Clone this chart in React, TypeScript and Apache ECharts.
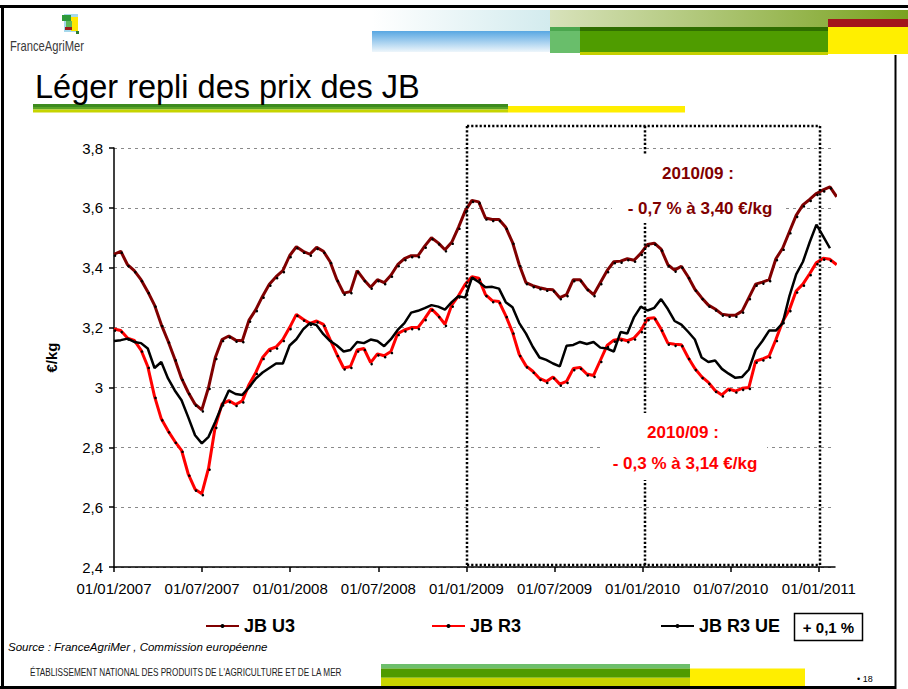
import React, { useEffect, useRef } from "react";
import * as echarts from "echarts";

// ---- data (bi-weekly readings from 01/01/2007) ----
const xTickLabels = [
  "01/01/2007", "01/07/2007", "01/01/2008", "01/07/2008", "01/01/2009",
  "01/07/2009", "01/01/2010", "01/07/2010", "01/01/2011",
];
const yTicks = [2.4, 2.6, 2.8, 3.0, 3.2, 3.4, 3.6, 3.8];
const STEP_DAYS = 14;

const jbU3 = [
  3.445, 3.455, 3.41, 3.39, 3.36, 3.32, 3.275, 3.21, 3.155, 3.095,
  3.03, 2.983, 2.944, 2.925, 3.0, 3.1, 3.16, 3.172, 3.158, 3.156,
  3.225, 3.26, 3.305, 3.345, 3.37, 3.39, 3.44, 3.47, 3.455, 3.445,
  3.468, 3.455, 3.42, 3.36, 3.315, 3.32, 3.39, 3.36, 3.335, 3.36,
  3.35, 3.375, 3.41, 3.43, 3.44, 3.44, 3.472, 3.5, 3.483, 3.46,
  3.485, 3.535, 3.59, 3.625, 3.62, 3.566, 3.561, 3.561, 3.535, 3.485,
  3.41, 3.35, 3.34, 3.333, 3.328, 3.326, 3.3, 3.31, 3.36, 3.36,
  3.33, 3.31, 3.35, 3.39, 3.42, 3.422, 3.43, 3.425, 3.448, 3.478,
  3.482, 3.462, 3.41, 3.392, 3.405, 3.37, 3.328, 3.3, 3.275, 3.262,
  3.245, 3.241, 3.241, 3.255, 3.3, 3.345, 3.352, 3.36, 3.43, 3.465,
  3.52, 3.575, 3.61, 3.628, 3.648, 3.66, 3.67, 3.637,
];
const jbR3 = [
  3.195, 3.19, 3.165, 3.157, 3.125, 3.07, 2.97, 2.895, 2.855, 2.82,
  2.79, 2.71, 2.66, 2.645, 2.73, 2.87, 2.945, 2.956, 2.943, 2.955,
  3.01, 3.05, 3.1, 3.127, 3.135, 3.16, 3.2, 3.244, 3.228, 3.214,
  3.222, 3.211, 3.16, 3.11, 3.065, 3.07, 3.125, 3.13, 3.083, 3.112,
  3.106, 3.12, 3.18, 3.192, 3.2, 3.2, 3.23, 3.263, 3.24, 3.211,
  3.275, 3.306, 3.345, 3.37, 3.365, 3.31, 3.29, 3.287, 3.24, 3.185,
  3.11, 3.072, 3.054, 3.03, 3.02, 3.035, 3.011, 3.02, 3.063, 3.067,
  3.045, 3.04, 3.09, 3.14, 3.158, 3.162, 3.156, 3.165, 3.19, 3.23,
  3.233, 3.195, 3.148, 3.144, 3.143, 3.1, 3.063, 3.036, 3.017, 2.99,
  2.975, 2.995, 2.988, 2.997, 3.0, 3.088, 3.095, 3.105, 3.16, 3.22,
  3.26, 3.322, 3.345, 3.38, 3.417, 3.432, 3.428, 3.41,
];
const jbR3UE = [
  3.155, 3.158, 3.163, 3.152, 3.148, 3.13, 3.065, 3.085, 3.03, 2.99,
  2.957, 2.9, 2.84, 2.813, 2.835, 2.885, 2.94, 2.99, 2.978, 2.975,
  3.0, 3.03, 3.05, 3.065, 3.08, 3.08, 3.14, 3.161, 3.194, 3.215,
  3.208, 3.178, 3.155, 3.14, 3.12, 3.125, 3.152, 3.148, 3.16, 3.155,
  3.138, 3.161, 3.192, 3.215, 3.25, 3.256, 3.265, 3.275, 3.27, 3.26,
  3.285, 3.305, 3.3, 3.367, 3.352, 3.335, 3.336, 3.33, 3.285, 3.268,
  3.215, 3.18, 3.136, 3.1, 3.092, 3.08, 3.07, 3.139, 3.142, 3.152,
  3.145, 3.152, 3.133, 3.13, 3.12, 3.185, 3.18, 3.235, 3.27, 3.257,
  3.266, 3.295, 3.262, 3.222, 3.21, 3.186, 3.16, 3.1, 3.085, 3.09,
  3.062, 3.046, 3.032, 3.035, 3.06, 3.125, 3.155, 3.19, 3.19, 3.215,
  3.305, 3.378, 3.42, 3.485, 3.544, 3.505, 3.465,
];

const seriesNames = ["JB U3", "JB R3", "JB R3 UE"];

const FONT = "'Liberation Sans', Arial, sans-serif";

const toPoints = (arr: number[]) =>
  arr.map((v, i) => [(i * STEP_DAYS) / 30.4375, v]);

const rect = (x: number, y: number, w: number, h: number, fill: any, z = 1) => ({
  type: "rect",
  z,
  shape: { x, y, width: w, height: h },
  style: { fill },
  silent: true,
});
const line = (x1: number, y1: number, x2: number, y2: number, style: any, z = 1) => ({
  type: "line",
  z,
  shape: { x1, y1, x2, y2 },
  style,
  silent: true,
});
const text = (
  x: number, y: number, t: string, font: string, fill: string,
  align = "left", z = 20, scaleX = 1,
) => ({
  type: "text",
  z,
  x,
  y,
  scaleX,
  style: {
    text: t,
    font,
    fill,
    align,
    verticalAlign: "middle",
    textAlign: align,
    textVerticalAlign: "middle",
  },
  silent: true,
});

export default function App() {
  const ref = useRef<HTMLDivElement>(null);

  useEffect(() => {
    if (!ref.current) return;
    const chart = echarts.init(ref.current, undefined, { renderer: "svg" });
    const LG = echarts.graphic.LinearGradient;
    const dotted = { stroke: "#000", lineWidth: 2.5, lineDash: [2.2, 2] };

    const graphic: any[] = [
      // frame
      line(0, 6.5, 908, 6.5, { stroke: "#000", lineWidth: 3 }),
      line(2.5, 5, 2.5, 689, { stroke: "#000", lineWidth: 3 }),
      line(0, 687.5, 896, 687.5, { stroke: "#000", lineWidth: 3 }),
      line(895.5, 55, 895.5, 689, { stroke: "#000", lineWidth: 2 }),
      // header decoration
      rect(372, 10, 178, 21, new LG(0, 0, 1, 0, [{ offset: 0, color: "#ffffff" }, { offset: 1, color: "#d3ebee" }])),
      rect(372, 31, 178, 21, new LG(0, 0, 0, 1, [{ offset: 0, color: "#58a7e2" }, { offset: 1, color: "#eef6fb" }])),
      rect(550, 10, 358, 17, new LG(0, 0, 1, 0, [{ offset: 0, color: "#d8e2bb" }, { offset: 1, color: "#79a21f" }])),
      rect(550, 27, 30, 26, "#69be6b"),
      rect(550, 27, 30, 4, "#4ba64e"),
      rect(580, 27, 248, 26, "#4f9c00"),
      rect(580, 27, 248, 4, "#2f6e00"),
      rect(580, 52, 248, 3, "#c5d000"),
      rect(828, 19, 80, 8, "#a2161b"),
      rect(828, 27, 80, 27, "#ffef00"),
      // logo
      rect(64, 14, 14, 18, "#a6d8ec"),
      rect(62, 15, 9, 6, "#2e9a3a"),
      rect(71, 17, 7, 14, "#ffe800"),
      rect(66, 21, 6, 6, "#5cb85c"),
      rect(65, 27, 7, 3, "#9b1b1b"),
      rect(76, 31, 3, 3, "#2e7d32"),
      text(10, 47, "FranceAgriMer", `14px ${FONT}`, "#3a3a3a", "left", 20, 0.8),
      // title
      text(35, 87, "Léger repli des prix des JB", `32.5px ${FONT}`, "#000"),
      rect(33, 104, 475, 3, "#3d8b1f"),
      rect(33, 107, 475, 2.5, "#5aa326"),
      rect(33, 109.5, 475, 3, "#c6d400"),
      rect(508, 106, 177, 6.5, "#ffee00"),
      // dotted annotation box
      line(467, 126, 820, 126, dotted, 10),
      line(467, 126, 467, 566, dotted, 10),
      line(820, 126, 820, 566, dotted, 10),
      line(467, 565, 820, 565, dotted, 10),
      line(645, 126, 645, 566, dotted, 10),
      rect(612, 155, 170, 68, "#ffffff", 11),
      rect(600, 413, 167, 67, "#ffffff", 11),
      text(698, 173, "2010/09 :", `bold 17px ${FONT}`, "#7f0000", "center"),
      text(700, 208, "- 0,7 % à 3,40 €/kg", `bold 17px ${FONT}`, "#7f0000", "center"),
      text(683, 432, "2010/09 :", `bold 17px ${FONT}`, "#ff0000", "center"),
      text(685, 463, "- 0,3 % à 3,14 €/kg", `bold 17px ${FONT}`, "#ff0000", "center"),
      // legend side box
      {
        type: "rect",
        z: 20,
        shape: { x: 794.5, y: 613.5, width: 68, height: 27 },
        style: { fill: "#ffffff", stroke: "#000", lineWidth: 1.5 },
        silent: true,
      },
      text(828.5, 627, "+ 0,1 %", `bold 15px ${FONT}`, "#000", "center", 21),
      // source & footer
      text(8, 647, "Source : FranceAgriMer , Commission européenne", `italic 11.5px ${FONT}`, "#000"),
      text(30, 673, "ÉTABLISSEMENT NATIONAL DES PRODUITS DE L'AGRICULTURE ET DE LA MER", `10px ${FONT}`, "#222", "left", 20, 0.82),
      rect(381, 664, 309, 4.5, "#6dbf6c"),
      rect(381, 668.5, 309, 9.2, "#4f9b00"),
      rect(381, 677.7, 309, 8.3, "#c8d400"),
      rect(690, 668.5, 115, 17.5, "#ffee00"),
      text(857, 679, "• 18", `9px ${FONT}`, "#000"),
    ];

    const legendBase = {
      top: 617,
      padding: 0,
      itemWidth: 33,
      itemHeight: 5,
      itemGap: 0,
      textStyle: { fontFamily: FONT, fontSize: 18, fontWeight: "bold", color: "#000" },
      selectedMode: false,
    };

    chart.setOption({
      animation: false,
      backgroundColor: "#ffffff",
      textStyle: { fontFamily: FONT },
      graphic,
      legend: [
        { ...legendBase, left: 205, data: [seriesNames[0]] },
        { ...legendBase, left: 431, data: [seriesNames[1]] },
        { ...legendBase, left: 660, data: [seriesNames[2]] },
      ],
      grid: { left: 114, top: 148, width: 721, height: 419, containLabel: false },
      xAxis: {
        type: "value",
        min: 0,
        max: 49.1,
        interval: 6,
        axisLine: { show: true, lineStyle: { color: "#000", width: 1.5 } },
        axisTick: {
          show: true,
          length: 5,
          lineStyle: { color: "#000", width: 1.5 },
          customValues: xTickLabels.map((_, i) => i * 6),
        },
        axisLabel: {
          color: "#000",
          fontSize: 15,
          fontFamily: FONT,
          margin: 14,
          customValues: xTickLabels.map((_, i) => i * 6),
          formatter: (v: number) => xTickLabels[Math.round(v / 6)] ?? "",
        },
        splitLine: { show: false },
      },
      yAxis: {
        type: "value",
        min: yTicks[0],
        max: yTicks[yTicks.length - 1],
        interval: 0.2,
        name: "€/kg",
        nameLocation: "middle",
        nameGap: 55,
        nameRotate: 90,
        nameTextStyle: { fontFamily: FONT, fontSize: 15, fontWeight: "bold", color: "#000" },
        axisLine: { show: true, lineStyle: { color: "#000", width: 1.5 } },
        axisTick: { show: true, length: 5, lineStyle: { color: "#000", width: 1.5 } },
        axisLabel: {
          color: "#000",
          fontSize: 15,
          fontFamily: FONT,
          margin: 11,
          formatter: (v: number) => String(Math.round(v * 10) / 10).replace(".", ","),
        },
        splitLine: { show: true, lineStyle: { color: "#8a8a8a", width: 1, type: [3, 4] } },
      },
      series: [
        {
          name: seriesNames[0],
          type: "line",
          data: toPoints(jbU3),
          symbol: "circle",
          symbolSize: 2.6,
          symbolOffset: [1, 1.5],
          color: "#800000",
          lineStyle: { color: "#800000", width: 3 },
          itemStyle: { color: "#000", borderWidth: 0 },
          z: 3,
        },
        {
          name: seriesNames[1],
          type: "line",
          data: toPoints(jbR3),
          symbol: "circle",
          symbolSize: 2.6,
          symbolOffset: [1, 1.5],
          color: "#ff0000",
          lineStyle: { color: "#ff0000", width: 3 },
          itemStyle: { color: "#000", borderWidth: 0 },
          z: 4,
        },
        {
          name: seriesNames[2],
          type: "line",
          data: toPoints(jbR3UE),
          symbol: "none",
          color: "#000",
          lineStyle: { color: "#000", width: 2.5 },
          z: 5,
        },
      ],
    });

    return () => chart.dispose();
  }, []);

  return (
    <div
      ref={ref}
      style={{ position: "absolute", left: 0, top: 0, width: 908, height: 689 }}
    />
  );
}
